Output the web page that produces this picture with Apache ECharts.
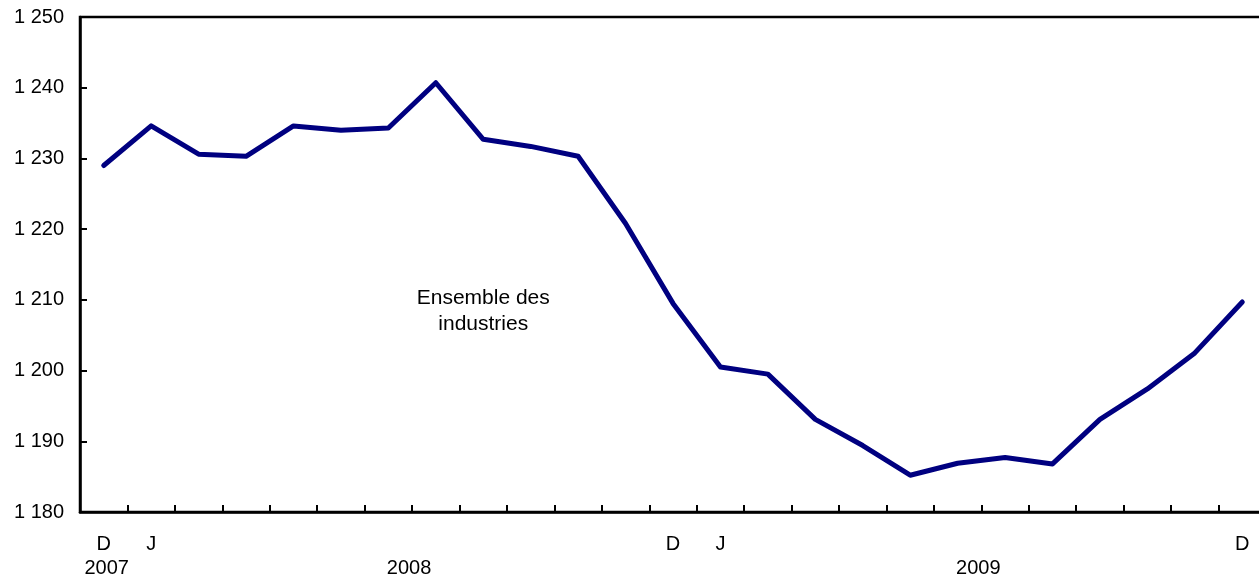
<!DOCTYPE html>
<html>
<head>
<meta charset="utf-8">
<script src="https://cdn.jsdelivr.net/npm/echarts@6/dist/echarts.min.js"></script>
<style>
  html, body { margin: 0; padding: 0; background: #fff; overflow: hidden; }
  #chart { width: 1266px; height: 577px; }
</style>
</head>
<body>
<div id="chart"></div>
<script>
// months Dec 2007 .. Dec 2009
const months = ['D', 'J', 'F', 'M', 'A', 'M', 'J', 'J', 'A', 'S', 'O', 'N',
                'D', 'J', 'F', 'M', 'A', 'M', 'J', 'J', 'A', 'S', 'O', 'N', 'D'];
const shownLabels = [0, 1, 12, 13, 24];
const years = [
    { text: '2007', from: 0, to: 0 },
    { text: '2008', from: 1, to: 12 },
    { text: '2009', from: 13, to: 24 }
];
const values = [1229.0, 1234.6, 1230.6, 1230.3, 1234.6, 1234.0, 1234.3, 1240.7,
                1232.7, 1231.7, 1230.3, 1220.8, 1209.5, 1200.5, 1199.5, 1193.1,
                1189.4, 1185.2, 1186.9, 1187.7, 1186.8, 1193.1, 1197.4, 1202.5, 1209.7];
const seriesLabel = 'Ensemble des\nindustries';
const labelAt = [8.15, 1208.4];

const font = 'Liberation Sans, Arial, sans-serif';
const chart = echarts.init(document.getElementById('chart'));

const fmt = v => String(v).replace(/\B(?=(\d{3})+(?!\d))/g, ' ');

chart.setOption({
    animation: false,
    grid: {
        left: 80, right: 0, top: 17, bottom: 65,
        show: true, borderColor: '#000', borderWidth: 2.5
    },
    xAxis: {
        type: 'category',
        data: months,
        boundaryGap: true,
        axisLine: { lineStyle: { color: '#000', width: 2.5 } },
        axisTick: {
            show: true, interval: 0, inside: true, length: 7,
            lineStyle: { color: '#000', width: 2 }
        },
        axisLabel: {
            interval: 0,
            margin: 22,
            color: '#000',
            fontFamily: font,
            fontSize: 20,
            formatter: (v, i) => shownLabels.includes(i) ? v : ''
        }
    },
    yAxis: {
        type: 'value',
        min: 1180, max: 1250, interval: 10,
        axisLine: { show: true, lineStyle: { color: '#000', width: 2.5 } },
        axisTick: { show: true, inside: true, length: 7, lineStyle: { color: '#000', width: 2 } },
        splitLine: { show: false },
        axisLabel: {
            margin: 16,
            color: '#000',
            fontFamily: font,
            fontSize: 20,
            formatter: fmt
        }
    },
    series: [{
        type: 'line',
        data: values,
        symbol: 'none',
        lineStyle: { color: '#000080', width: 5, cap: 'round', join: 'round' }
    }]
});

// year labels and series annotation placed through the axis scales
const graphics = years.map(y => {
    const a = chart.convertToPixel({ gridIndex: 0 }, [y.from, 1180]);
    const b = chart.convertToPixel({ gridIndex: 0 }, [y.to, 1180]);
    return {
        type: 'text',
        x: (a[0] + b[0]) / 2 + (y.from === 0 ? 3 : -3),
        y: a[1] + 56,
        style: {
            text: y.text, fill: '#000', font: '20px ' + font,
            textAlign: 'center', textVerticalAlign: 'middle'
        }
    };
});
const p = chart.convertToPixel({ gridIndex: 0 }, labelAt);
graphics.push({
    type: 'text',
    x: p[0], y: p[1],
    style: {
        text: seriesLabel, fill: '#000', font: '21px ' + font,
        textAlign: 'center', textVerticalAlign: 'middle', lineHeight: 26
    }
});
chart.setOption({ graphic: graphics });
</script>
</body>
</html>
